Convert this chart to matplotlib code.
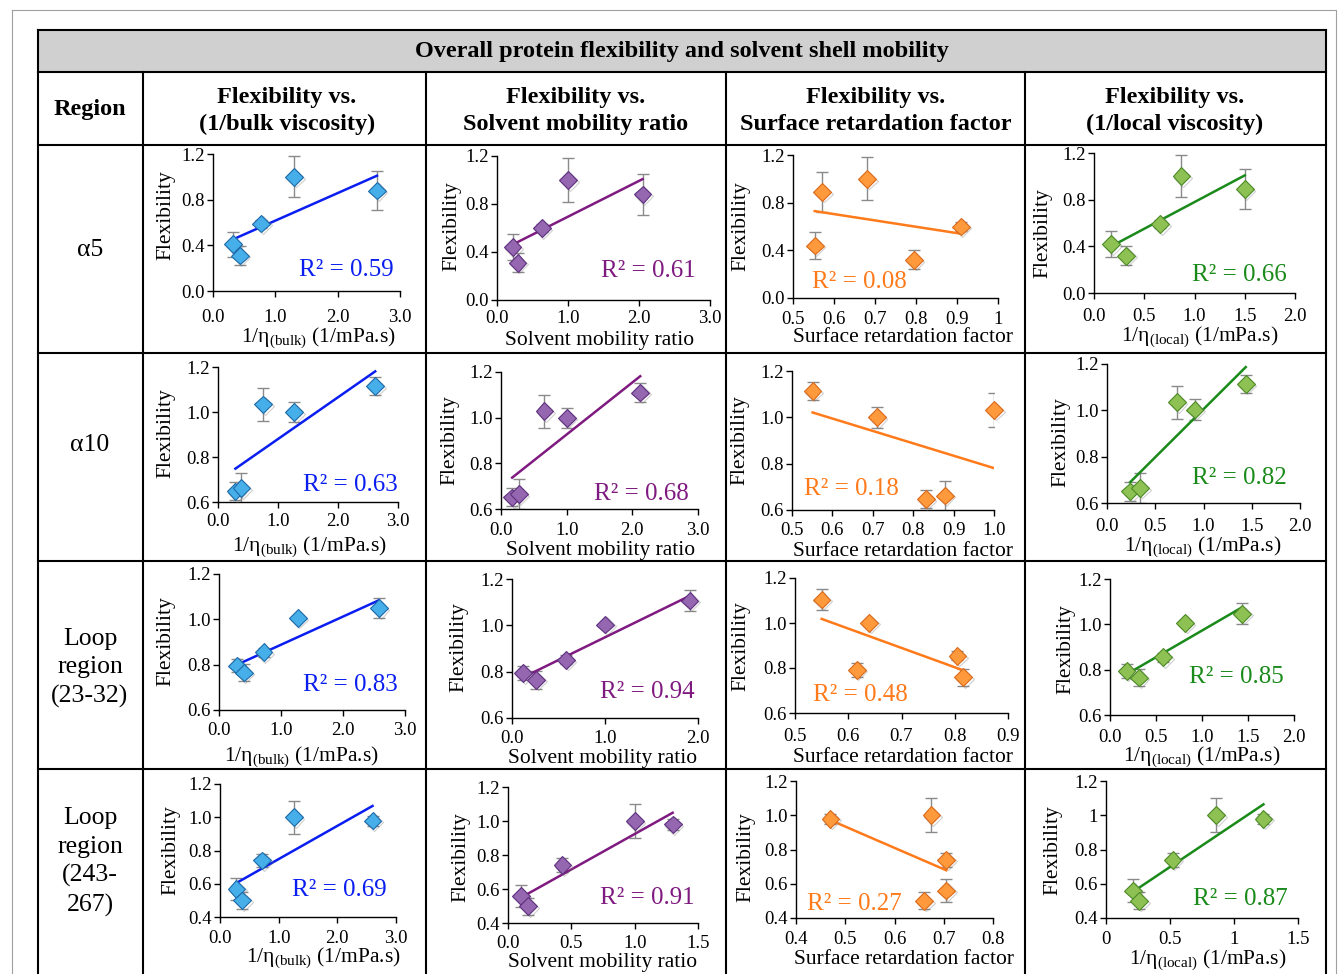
import numpy as np
import matplotlib
matplotlib.use("Agg")
import matplotlib.pyplot as plt
import matplotlib.patheffects as pe

# --- DATOS ---

W, H = 1342, 974

titulo = "Overall protein flexibility and solvent shell mobility"
encabezados = ["Flexibility vs.\n(1/bulk viscosity)", "Flexibility vs.\nSolvent mobility ratio",
               "Flexibility vs.\nSurface retardation factor", "Flexibility vs.\n(1/local viscosity)"]
regiones = ["α5", "α10", "Loop\nregion\n(23-32)", "Loop\nregion\n(243-\n267)"]
etiquetas_x = [r"1/η$_{\rm (bulk)}$ (1/mPa.s)", "Solvent mobility ratio",
               "Surface retardation factor", r"1/η$_{\rm (local)}$ (1/mPa.s)"]

# alpha 5
a5_err = [0.11, 0.08, 0.035, 0.18, 0.17]
a5_bulk_x = [0.32, 0.43, 0.77, 1.30, 2.63]
a5_bulk_y = [0.41, 0.31, 0.59, 1.00, 0.88]
a5_ratio_x = [0.22, 0.29, 0.63, 1.00, 2.05]
a5_ratio_y = [0.44, 0.31, 0.60, 1.00, 0.88]
a5_srf_x = [0.553, 0.795, 0.909, 0.681, 0.571]
a5_srf_y = [0.44, 0.32, 0.60, 1.00, 0.89]
a5_local_x = [0.17, 0.32, 0.66, 0.87, 1.50]
a5_local_y = [0.42, 0.32, 0.59, 1.00, 0.89]
a5_r2 = ["0.59", "0.61", "0.08", "0.66"]

# alpha 10
a10_err = [0.04, 0.065, 0.072, 0.044, 0.04]
a10_bulk_x = [0.29, 0.39, 0.75, 1.27, 2.62]
a10_bulk_y = [0.647, 0.662, 1.034, 1.00, 1.116]
a10_ratio_x = [0.17, 0.27, 0.66, 1.00, 2.12]
a10_ratio_y = [0.651, 0.665, 1.028, 1.00, 1.110]
a10_srf_x = [0.831, 0.878, 1.00, 0.710, 0.551]
a10_srf_y = [0.647, 0.662, 1.032, 1.00, 1.114]
a10_local_x = [0.24, 0.345, 0.724, 0.907, 1.438]
a10_local_y = [0.650, 0.665, 1.035, 1.003, 1.114]
a10_r2 = ["0.63", "0.68", "0.18", "0.82"]

# loop 23-32
l1_err = [0.03, 0.038, 0.02, 0.006, 0.045]
l1_bulk_x = [0.29, 0.40, 0.72, 1.27, 2.58]
l1_bulk_y = [0.796, 0.765, 0.855, 1.006, 1.05]
l1_ratio_x = [0.12, 0.26, 0.58, 1.00, 1.91]
l1_ratio_y = [0.794, 0.765, 0.851, 1.003, 1.107]
l1_srf_x = [0.616, 0.816, 0.805, 0.639, 0.550]
l1_srf_y = [0.792, 0.759, 0.854, 1.001, 1.104]
l1_local_x = [0.18, 0.315, 0.579, 0.814, 1.436]
l1_local_y = [0.795, 0.765, 0.855, 1.006, 1.047]
l1_r2 = ["0.83", "0.94", "0.48", "0.85"]

# loop 243-267
l2_err = [0.065, 0.05, 0.04, 0.10, 0.03]
l2_bulk_x = [0.28, 0.38, 0.72, 1.26, 2.60]
l2_bulk_y = [0.57, 0.50, 0.74, 1.00, 0.98]
l2_ratio_x = [0.10, 0.16, 0.43, 1.00, 1.30]
l2_ratio_y = [0.56, 0.50, 0.74, 1.00, 0.98]
l2_srf_x = [0.705, 0.660, 0.705, 0.675, 0.470]
l2_srf_y = [0.56, 0.50, 0.74, 1.00, 0.98]
l2_local_x = [0.21, 0.26, 0.52, 0.86, 1.23]
l2_local_y = [0.56, 0.50, 0.74, 1.00, 0.98]
l2_r2 = ["0.69", "0.91", "0.27", "0.87"]

filas = [
    (a5_err, [(a5_bulk_x, a5_bulk_y), (a5_ratio_x, a5_ratio_y), (a5_srf_x, a5_srf_y), (a5_local_x, a5_local_y)], a5_r2),
    (a10_err, [(a10_bulk_x, a10_bulk_y), (a10_ratio_x, a10_ratio_y), (a10_srf_x, a10_srf_y), (a10_local_x, a10_local_y)], a10_r2),
    (l1_err, [(l1_bulk_x, l1_bulk_y), (l1_ratio_x, l1_ratio_y), (l1_srf_x, l1_srf_y), (l1_local_x, l1_local_y)], l1_r2),
    (l2_err, [(l2_bulk_x, l2_bulk_y), (l2_ratio_x, l2_ratio_y), (l2_srf_x, l2_srf_y), (l2_local_x, l2_local_y)], l2_r2),
]

# --- ESTILO Y POSICIONES (px) ---

relleno = ["#46aee8", "#9467b0", "#ff9a3c", "#8ec153"]
borde = ["#1d6aa8", "#5e2f7e", "#d9691a", "#4b8a26"]
linea = ["#0a1ef0", "#7f1a80", "#ff7a1a", "#1a8a1a"]

# caja de ejes: izquierda, derecha, arriba, abajo
cajas = [
    [(213, 400, 154, 291), (497, 710, 156, 300), (793, 998, 155, 298), (1094, 1295, 153, 293)],
    [(218, 398, 367, 502), (501, 698, 372, 509), (792, 994, 371, 510), (1107, 1300, 364, 503)],
    [(219, 405, 574, 710), (512, 698, 579, 718), (795, 1008, 578, 713), (1110, 1294, 579, 715)],
    [(220, 396, 784, 917), (508, 698, 787, 923), (796, 993, 781, 918), (1106, 1298, 781, 918)],
]
ejes_x = [
    [(0, 3, 1, ".1f"), (0, 3, 1, ".1f"), (0.5, 1.0, 0.1, "g"), (0, 2, 0.5, ".1f")],
    [(0, 3, 1, ".1f"), (0, 3, 1, ".1f"), (0.5, 1.0, 0.1, ".1f"), (0, 2, 0.5, ".1f")],
    [(0, 3, 1, ".1f"), (0, 2, 1, ".1f"), (0.5, 0.9, 0.1, ".1f"), (0, 2, 0.5, ".1f")],
    [(0, 3, 1, ".1f"), (0, 1.5, 0.5, ".1f"), (0.4, 0.8, 0.1, ".1f"), (0, 1.5, 0.5, "g")],
]
ejes_y = [(0.0, 1.2, 0.4), (0.6, 1.2, 0.2), (0.6, 1.2, 0.2), (0.4, 1.2, 0.2)]
sep_ticks = [[26, 18, 21, 23], [19, 21, 20, 23], [20, 20, 23, 22], [21, 20, 21, 21]]
pos_r2 = [[(346, 268), (648, 269), (859, 280), (1239, 273)],
          [(350, 483), (641, 492), (851, 487), (1239, 476)],
          [(350, 683), (647, 690), (860, 693), (1236, 675)],
          [(339, 888), (647, 896), (854, 902), (1240, 897)]]
pos_xlab = [[(318, 338), (600, 341), (903, 338), (1200, 337)],
            [(309, 547), (601, 550), (903, 552), (1203, 547)],
            [(301, 757), (603, 759), (903, 758), (1202, 757)],
            [(323, 958), (603, 962), (904, 960), (1208, 960)]]
pos_ylab = [[(166, 215), (452, 226), (741, 226), (1043, 233)],
            [(166, 433), (450, 440), (740, 440), (1061, 442)],
            [(166, 641), (459, 647), (741, 646), (1066, 649)],
            [(171, 850), (461, 857), (746, 857), (1053, 850)]]

plt.rcParams["font.family"] = ["Liberation Serif", "DejaVu Serif"]
plt.rcParams["mathtext.fontset"] = "custom"
plt.rcParams["mathtext.rm"] = "Liberation Serif"
plt.rcParams["mathtext.it"] = "Liberation Serif:italic"

fig = plt.figure(figsize=(W / 100, H / 100), dpi=100)
fondo = fig.add_axes([0, 0, 1, 1])
fondo.set_xlim(0, W)
fondo.set_ylim(H, 0)
fondo.axis("off")

# marco exterior y tabla
fondo.plot([12, 1336, 1336, 12, 12], [10, 10, 985, 985, 10], color="#a0a0a0", lw=0.8)
fondo.fill_between([38, 1326], 30, 72, color="#d0d0d0", lw=0)
for yy in [30, 72, 145, 353, 561, 769]:
    fondo.plot([38, 1326], [yy, yy], color="black", lw=1.5)
for xx in [38, 1326]:
    fondo.plot([xx, xx], [30, H], color="black", lw=1.5)
for xx in [143, 426, 726, 1025]:
    fondo.plot([xx, xx], [72, H], color="black", lw=1.5)

fondo.text(682, 52, titulo, ha="center", va="center", fontsize=17.5, fontweight="bold")
fondo.text(90, 110, "Region", ha="center", va="center", fontsize=17.5, fontweight="bold")
for xc, txt in zip([287, 576, 876, 1175], encabezados):
    fondo.text(xc, 111, txt, ha="center", va="center", fontsize=17.5, fontweight="bold",
               multialignment="center", linespacing=1.38)
for yc, txt in zip([250, 445, 668, 862], regiones):
    fondo.text(90, yc, txt, ha="center", va="center", fontsize=18.5,
               multialignment="center", linespacing=1.36)

sombra = [pe.SimpleLineShadow(offset=(1.2, -1.2), shadow_color="#777777", alpha=0.35), pe.Normal()]

for i, (err, series, r2s) in enumerate(filas):
    y0, y1, ys = ejes_y[i]
    for j, (xs, yv) in enumerate(series):
        l, r, t, b = cajas[i][j]
        ax = fig.add_axes([l / W, 1 - b / H, (r - l) / W, (b - t) / H])
        ax.set_facecolor("none")
        x0, x1, xst, fmt = ejes_x[i][j]

        ax.errorbar(xs, yv, yerr=err, fmt="none", ecolor="#8a8a8a", elinewidth=1,
                    capsize=4, capthick=1, zorder=2)
        coef = np.polyfit(xs, yv, 1)
        xl = np.array([min(xs), max(xs)])
        ax.plot(xl, np.polyval(coef, xl), color=linea[j], lw=1.8, zorder=3)
        ax.plot(xs, yv, "D", ms=9, mfc=relleno[j], mec=borde[j], mew=0.8, zorder=4,
                path_effects=sombra, clip_on=False)

        ax.set_xlim(x0, x1)
        ax.set_ylim(y0, y1)
        xt = np.round(np.arange(x0, x1 + xst / 2, xst), 2)
        ax.set_xticks(xt)
        ax.set_xticklabels([format(v, fmt) for v in xt])
        yt = np.round(np.arange(y0, y1 + ys / 2, ys), 2)
        ax.set_yticks(yt)
        yfmt = "g" if (i == 3 and j == 3) else ".1f"
        ax.set_yticklabels([format(v, yfmt) for v in yt])

        for lado in ["top", "right"]:
            ax.spines[lado].set_visible(False)
        for lado in ["left", "bottom"]:
            ax.spines[lado].set_linewidth(1.0)
        ax.tick_params(direction="out", length=4, width=1, labelsize=13.5, pad=2)
        ax.tick_params(axis="x", pad=max(1.0, (sep_ticks[i][j] - 14) / 1.389))

        xr, yr = pos_r2[i][j]
        fondo.text(xr, yr + 8, "R² = " + r2s[j], ha="center", va="baseline",
                   fontsize=18, color=linea[j])
        xx, yy = pos_xlab[i][j]
        fondo.text(xx, yy, etiquetas_x[j], ha="center", va="center", fontsize=15.5)
        xx, yy = pos_ylab[i][j]
        fondo.text(xx, yy, "Flexibility", ha="center", va="center", fontsize=15.5, rotation=90)

fig.savefig("out.png", dpi=100)
